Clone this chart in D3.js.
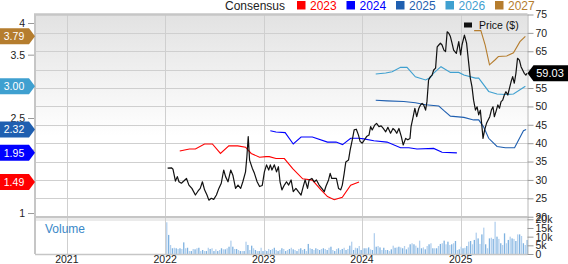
<!DOCTYPE html>
<html><head><meta charset="utf-8">
<script src="https://cdn.jsdelivr.net/npm/d3@7"></script>
<style>body{margin:0;background:#fff}svg{display:block;font-family:"Liberation Sans",Arial,sans-serif}</style>
</head><body><svg id="c" width="568" height="264"></svg>
<script>
const years = ["2021","2022","2023","2024","2025"];
const epsTicks = [1,1.5,2,2.5,3,3.5,4];
const epsTickLabels = ["1","","","2.5","","3.5","4"];
const priceTicks = [20,25,30,35,40,45,50,55,60,65,70,75];
const volTicks = [0,5,10,15,20];
const volTickLabels = ["0","5k","10k","15k","20k"];
const legendLabels = ["2023","2024","2025","2026","2027"];
const legendColors = ["#ff0000","#0000ff","#1f5fb0","#3fa0d0","#b57d2e"];

const priceDates = ["2022-01-10","2022-01-24","2022-01-30","2022-02-08","2022-02-15","2022-02-21","2022-03-02","2022-03-11","2022-03-21","2022-03-30","2022-04-10","2022-04-23","2022-05-03","2022-05-11","2022-05-19","2022-05-27","2022-06-05","2022-06-12","2022-06-21","2022-06-30","2022-07-10","2022-07-19","2022-07-28","2022-08-06","2022-08-13","2022-08-22","2022-09-01","2022-09-09","2022-09-19","2022-09-28","2022-10-08","2022-10-16","2022-10-26","2022-10-31","2022-11-05","2022-11-10","2022-11-20","2022-11-28","2022-12-08","2022-12-17","2022-12-27","2023-01-04","2023-01-12","2023-01-20","2023-01-26","2023-02-01","2023-02-10","2023-02-18","2023-02-25","2023-03-03","2023-03-10","2023-03-19","2023-03-27","2023-04-04","2023-04-13","2023-04-21","2023-05-01","2023-05-10","2023-05-20","2023-05-28","2023-06-04","2023-06-13","2023-06-19","2023-06-29","2023-07-08","2023-07-16","2023-07-26","2023-08-05","2023-08-14","2023-08-20","2023-08-30","2023-09-05","2023-09-11","2023-09-20","2023-09-28","2023-10-06","2023-10-14","2023-10-20","2023-10-27","2023-11-02","2023-11-12","2023-11-18","2023-11-26","2023-12-03","2023-12-11","2023-12-19","2023-12-25","2024-01-02","2024-01-11","2024-01-18","2024-01-27","2024-02-02","2024-02-08","2024-02-17","2024-02-24","2024-03-04","2024-03-12","2024-03-20","2024-03-29","2024-04-06","2024-04-16","2024-04-25","2024-05-01","2024-05-09","2024-05-17","2024-05-26","2024-06-02","2024-06-11","2024-06-19","2024-06-27","2024-07-01","2024-07-09","2024-07-15","2024-07-22","2024-07-30","2024-08-05","2024-08-11","2024-08-17","2024-08-24","2024-08-29","2024-09-04","2024-09-11","2024-09-17","2024-09-23","2024-09-30","2024-10-06","2024-10-12","2024-10-18","2024-10-24","2024-10-31","2024-11-06","2024-11-12","2024-11-18","2024-11-24","2024-11-30","2024-12-06","2024-12-16","2024-12-25","2025-01-01","2025-01-06","2025-01-15","2025-01-23","2025-01-31","2025-02-06","2025-02-12","2025-02-18","2025-02-25","2025-03-03","2025-03-09","2025-03-15","2025-03-21","2025-03-25","2025-03-31","2025-04-07","2025-04-13","2025-04-19","2025-04-25","2025-05-01","2025-05-06","2025-05-12","2025-05-19","2025-05-25","2025-05-31","2025-06-06","2025-06-12","2025-06-18","2025-06-25","2025-07-01","2025-07-07","2025-07-13","2025-07-19","2025-07-25","2025-07-31","2025-08-07","2025-08-13","2025-08-19","2025-08-25","2025-08-31","2025-09-04"];
const priceValues = [33.2,33.3,32.9,29.7,30.9,29.5,29.1,29.7,30.4,28.6,27.7,25.9,27.0,27.7,29.5,27.3,25.9,24.5,25.0,24.7,25.9,27.7,29.1,32.7,30.9,29.5,32.7,31.3,27.7,28.6,27.7,29.5,32.2,36.3,41.8,35.4,33.2,31.8,29.5,28.2,28.5,32.2,34.1,32.7,34.1,32.7,34.1,32.2,33.6,29.5,27.3,28.6,29.5,28.6,30.0,26.8,27.7,26.8,25.9,28.2,30.0,27.7,30.0,30.4,29.5,30.0,28.6,27.7,26.8,28.2,30.0,31.8,30.4,30.4,30.4,27.7,27.3,28.6,31.8,34.9,35.4,38.1,40.9,43.6,43.8,42.2,40.5,40.0,41.0,41.8,42.2,44.5,43.6,44.9,45.4,44.5,44.7,44.0,43.1,44.3,42.7,44.0,43.6,42.7,44.0,41.8,39.5,41.3,40.9,41.3,44.5,47.2,49.5,47.2,49.5,50.4,50.8,50.4,49.0,51.3,57.2,58.1,58.5,59.9,60.4,66.2,66.7,67.2,66.7,65.3,64.9,70.3,69.9,69.0,67.2,65.3,64.4,67.6,64.0,66.7,69.4,67.2,61.7,57.6,55.4,51.7,49.0,49.9,47.7,49.0,44.5,41.3,43.6,45.4,46.3,47.2,49.0,49.9,47.2,48.6,50.4,49.5,51.3,51.7,53.1,54.0,53.1,54.9,56.7,58.1,56.3,59.0,63.1,62.6,60.8,59.9,59.0,58.5,59.03];

const est2023Dates = ["2022-02-24","2022-03-14","2022-04-01","2022-04-23","2022-05-27","2022-06-25","2022-07-25","2022-08-25","2022-09-27","2022-10-26","2022-11-16","2022-12-17","2023-01-10","2023-01-22","2023-02-16","2023-03-19","2023-04-19","2023-05-26","2023-07-01","2023-08-01","2023-08-26","2023-09-20","2023-10-20","2023-11-20","2023-12-21"];
const est2023 = [1.98,1.995,2.01,2.01,2.09,2.09,1.94,2.06,2.06,2.04,1.94,1.88,1.89,1.89,1.86,1.86,1.70,1.54,1.52,1.37,1.26,1.21,1.25,1.44,1.49];
const est2024Dates = ["2023-01-26","2023-02-16","2023-03-22","2023-04-21","2023-05-20","2023-07-01","2023-08-26","2023-09-27","2023-10-21","2023-11-20","2023-12-21","2024-01-08","2024-02-14","2024-04-03","2024-05-23","2024-06-23","2024-07-23","2024-09-23","2024-10-24","2024-12-18"];
const est2024 = [2.30,2.28,2.27,2.09,2.20,2.20,2.12,2.12,2.08,2.18,2.18,2.17,2.14,2.12,2.03,2.03,2.01,2.02,1.96,1.95];
const est2025Dates = ["2024-02-21","2024-04-03","2024-06-04","2024-07-17","2024-08-24","2024-10-12","2024-10-30","2024-11-24","2025-01-13","2025-02-18","2025-03-09","2025-03-27","2025-04-15","2025-05-16","2025-06-16","2025-07-20","2025-08-22","2025-09-01"];
const est2025 = [2.78,2.77,2.76,2.74,2.71,2.69,2.62,2.53,2.51,2.47,2.47,2.36,2.18,2.05,2.03,2.03,2.30,2.32];
const est2026Dates = ["2024-02-21","2024-03-29","2024-04-22","2024-05-23","2024-06-16","2024-07-17","2024-08-24","2024-09-11","2024-09-23","2024-10-20","2024-11-24","2024-12-25","2025-01-13","2025-02-25","2025-03-09","2025-04-15","2025-05-16","2025-06-16","2025-07-16","2025-08-29"];
const est2026 = [3.195,3.21,3.23,3.30,3.30,3.15,3.10,3.14,3.21,3.31,3.22,3.22,3.18,3.13,3.13,2.92,2.88,2.87,2.88,3.00];
const est2027Dates = ["2025-02-20","2025-03-17","2025-04-02","2025-04-18","2025-05-09","2025-05-21","2025-06-21","2025-07-16","2025-08-09","2025-08-29"];
const est2027 = [3.88,3.88,3.65,3.34,3.42,3.47,3.48,3.53,3.705,3.79];
const lastEps = ["3.79","3.00","2.32","1.95","1.49"];
const lastEpsValues = [3.79,3.00,2.32,1.95,1.49];
const lastEpsColors = ["#b57d2e","#3fa0d0","#1f5fb0","#0000ff","#ff0000"];
const lastPrice = 59.03;

const volumeStart = "2022-01-07";
const volumeK = [18.3,11,5.2,3.3,3.6,3.3,2.9,3.3,2.9,6.7,3.3,3.6,1.7,1.7,2.9,2.7,3.3,3.6,1.7,2.3,1.7,1.7,3.6,2.9,3.3,1.7,2.7,1.7,2.3,3.3,2.7,2.7,3.3,4.2,7.7,4.2,2.9,2.9,2.3,1.7,1.7,1.7,7.1,5.2,2.3,4.8,3.3,2.3,1.7,1.7,3.6,1.7,
2.3,1.7,2.9,2.3,2.9,3.6,2.3,1.7,2.3,3.3,2.9,1.7,2.3,2.9,3.6,2.7,2.3,1.7,2.9,3.3,2.3,2.9,1.7,5.8,3.3,2.9,2.3,3.3,2.9,2.3,2.9,3.3,2.9,2.3,3.6,4.2,2.3,1.7,2.9,3.3,2.3,2.9,3.6,2.3,2.9,4.8,7.1,2.3,3.6,3.3,4.6,2.3,
3.3,3.3,3.3,3.8,2.7,2.3,12,4.2,4.6,3.8,2.3,3.6,2.3,2.3,1.7,2.7,4.8,3.6,3.8,4.2,3.8,3.3,4.6,2.7,3.8,5.6,6.2,5.6,4.8,3.6,7.7,3.3,3.8,2.7,4.6,5.6,6.2,3.3,3.3,3.3,4.6,5.8,6.2,7.7,5.6,7.1,5.2,5.6,6.2,7.5,2.3,2.7,
4.2,3.3,3.6,4.6,7.1,7.5,5.6,8.1,12.3,9.0,5.8,11.3,15.2,5.6,3.3,9.0,9.4,8.7,18.6,10,8.7,6.2,5.2,11.9,6.2,8.1,10,9.0,8.7,7.5,11.3,11.3,10.4,6.2,5.2,8.1];

const P = d3.timeParse("%Y-%m-%d");
const svg = d3.select("#c");
const L = 35, R = 527.5, T = 14.5, B = 216.7, VT = 217, VB = 254;

const x = d3.scaleTime().domain([P("2020-09-05"), P("2025-09-06")]).range([L, R]);
const yP = d3.scaleLinear().domain([20, 75]).range([B, T]);
const yE = d3.scaleLinear().domain([0.942, 4.134]).range([B, T]);
const yV = d3.scaleLinear().domain([0, 20]).range([VB, 219.3]);

const defs = svg.append("defs");
const g = defs.append("linearGradient").attr("id","bg").attr("x1",0).attr("y1",0).attr("x2",0).attr("y2",1);
g.append("stop").attr("offset","0%").attr("stop-color","#e2e2e2");
g.append("stop").attr("offset","60%").attr("stop-color","#ffffff");
g.append("stop").attr("offset","100%").attr("stop-color","#ffffff");

svg.append("rect").attr("x",L).attr("y",T).attr("width",R-L).attr("height",B-T).attr("fill","url(#bg)");
svg.append("rect").attr("x",L).attr("y",VT).attr("width",R-L).attr("height",VB-VT).attr("fill","#fff");
svg.append("rect").attr("x",L).attr("y",VT+1).attr("width",R-L).attr("height",3).attr("fill","#ebebeb");

// horizontal grid
svg.append("g").selectAll("line").data(priceTicks.filter(d=>d>20 && d<75)).join("line")
  .attr("x1",L).attr("x2",R).attr("y1",d=>Math.round(yP(d))+0.5).attr("y2",d=>Math.round(yP(d))+0.5)
  .attr("stroke","#cfcfcf").attr("stroke-width",1);
// vertical grid
const yearDates = years.map(y=>P(y+"-01-01"));
svg.append("g").selectAll("line").data(yearDates).join("line")
  .attr("x1",d=>Math.round(x(d))+0.5).attr("x2",d=>Math.round(x(d))+0.5).attr("y1",T).attr("y2",VB)
  .attr("stroke","#cfcfcf").attr("stroke-width",1);

// volume bars
const vStart = P(volumeStart);
svg.append("g").selectAll("rect").data(volumeK).join("rect")
  .attr("x",(d,i)=>x(d3.timeWeek.offset(vStart,i))-0.7).attr("width",1.3)
  .attr("y",d=>yV(d)).attr("height",d=>VB-yV(d))
  .attr("fill",(d,i)=> i%2 ? "#7fb2e0" : "#b3d0ee");

// frame
svg.append("line").attr("x1",L-1).attr("x2",R).attr("y1",T).attr("y2",T).attr("stroke","#c6c6c6").attr("stroke-width",2.5);
svg.append("line").attr("x1",L).attr("x2",L).attr("y1",T).attr("y2",VB).attr("stroke","#c6c6c6").attr("stroke-width",2);
svg.append("line").attr("x1",L).attr("x2",R).attr("y1",VT).attr("y2",VT).attr("stroke","#c6c6c6").attr("stroke-width",2);
svg.append("line").attr("x1",L).attr("x2",R).attr("y1",VB+0.5).attr("y2",VB+0.5).attr("stroke","#c6c6c6").attr("stroke-width",1.5);
svg.append("line").attr("x1",R+0.5).attr("x2",R+0.5).attr("y1",T).attr("y2",VB+1).attr("stroke","#b8b8b8").attr("stroke-width",1);

// consensus lines
const estSets = [[est2023Dates,est2023],[est2024Dates,est2024],[est2025Dates,est2025],[est2026Dates,est2026],[est2027Dates,est2027]];
const eLine = d3.line().x(d=>x(d[0])).y(d=>yE(d[1]));
estSets.forEach((s,k)=>{
  const pts = s[0].map((dt,i)=>[P(dt), s[1][i]]);
  svg.append("path").attr("d",eLine(pts)).attr("fill","none").attr("stroke",legendColors[k]).attr("stroke-width",1.1);
});
// price line
const pLine = d3.line().x(d=>x(d[0])).y(d=>yP(d[1]));
svg.append("path").attr("d",pLine(priceDates.map((dt,i)=>[P(dt),priceValues[i]])))
  .attr("fill","none").attr("stroke","#111").attr("stroke-width",1.2).attr("stroke-linejoin","round");

// left axis
const la = svg.append("g").attr("transform",`translate(${L-1},0)`)
  .call(d3.axisLeft(yE).tickValues(epsTicks).tickSize(6).tickPadding(3).tickFormat((d,i)=>epsTickLabels[i]));
la.select(".domain").remove();
la.selectAll("line").attr("stroke","#999");
la.selectAll("text").attr("fill","#222").style("font-size","10.5px").style("font-family","Liberation Sans, Arial");

// right axis (price)
const ra = svg.append("g").attr("transform",`translate(${R},0)`)
  .call(d3.axisRight(yP).tickValues(priceTicks).tickSize(6).tickPadding(2));
ra.select(".domain").remove();
ra.selectAll("line").attr("stroke","#999");
ra.selectAll("text").attr("fill","#222").style("font-size","10.5px").style("font-family","Liberation Sans, Arial");
// right axis (volume)
const va = svg.append("g").attr("transform",`translate(${R},0)`)
  .call(d3.axisRight(yV).tickValues(volTicks).tickSize(6).tickPadding(2).tickFormat((d,i)=>volTickLabels[i]));
va.select(".domain").remove();
va.selectAll("line").attr("stroke","#999");
va.selectAll("text").attr("fill","#222").style("font-size","10.5px").style("font-family","Liberation Sans, Arial");

// x labels
svg.append("g").selectAll("text").data(years).join("text")
  .attr("x",d=>x(P(d+"-01-01"))).attr("y",263).attr("text-anchor","middle")
  .attr("fill","#222").style("font-size","10.5px").text(d=>d);

// Volume label
svg.append("text").attr("x",45).attr("y",233).attr("fill","#3a88c8").style("font-size","12px").text("Volume");

// top legend
svg.append("text").attr("x",225).attr("y",9.5).attr("fill","#222").style("font-size","12px").text("Consensus");
const lg = svg.append("g").selectAll("g").data(legendLabels).join("g")
  .attr("transform",(d,i)=>`translate(${297+i*49.5},0)`);
lg.append("rect").attr("x",0).attr("y",1).attr("width",8.5).attr("height",8.5).attr("fill",(d,i)=>legendColors[i]);
lg.append("text").attr("x",13).attr("y",9.5).attr("fill",(d,i)=>legendColors[i]).style("font-size","12px").text(d=>d);

// price legend
svg.append("rect").attr("x",464).attr("y",22.5).attr("width",8).attr("height",5).attr("fill","#111");
svg.append("text").attr("x",479).attr("y",29).attr("fill","#111").style("font-size","10.5px").text("Price ($)");

// left badges
const bd = svg.append("g").selectAll("g").data(lastEpsValues).join("g")
  .attr("transform",d=>`translate(0,${yE(d)})`);
bd.append("path").attr("d","M0,-8L29,-8L35,0L29,8L0,8Z").attr("fill",(d,i)=>lastEpsColors[i]);
bd.append("text").attr("x",14).attr("y",4).attr("text-anchor","middle").attr("fill","#fff")
  .style("font-size","10.5px").text((d,i)=>lastEps[i]);

// right badge
const rb = svg.append("g").attr("transform",`translate(0,${yP(lastPrice)})`);
rb.append("path").attr("d",`M${R},0L${R+6},-8L568,-8L568,8L${R+6},8Z`).attr("fill","#000");
rb.append("text").attr("x",550).attr("y",4).attr("text-anchor","middle").attr("fill","#fff").style("font-size","11px").text(d3.format(".2f")(lastPrice));
</script></body></html>
